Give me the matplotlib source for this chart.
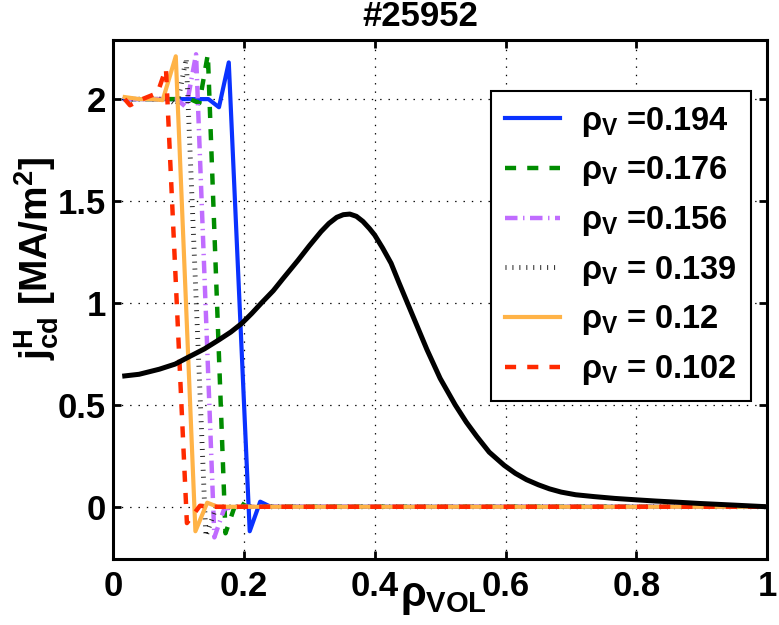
import matplotlib
matplotlib.use("Agg")
import matplotlib.pyplot as plt
import numpy as np

plt.rcParams['font.family'] = ['Liberation Sans', 'DejaVu Sans']
plt.rcParams['font.weight'] = 'bold'
plt.rcParams['mathtext.fontset'] = 'custom'
plt.rcParams['mathtext.rm'] = 'Liberation Sans'
plt.rcParams['mathtext.it'] = 'Liberation Sans'
plt.rcParams['mathtext.bf'] = 'Liberation Sans:bold'
plt.rcParams['lines.scale_dashes'] = False

# total driven current profile (black)
rho_tot = [0.018, 0.04, 0.071, 0.095, 0.117, 0.14, 0.162, 0.18, 0.197, 0.212, 0.227, 0.245,
           0.26, 0.283, 0.30, 0.318, 0.33, 0.342, 0.352, 0.362, 0.372, 0.382, 0.392, 0.40,
           0.412, 0.425, 0.437, 0.45, 0.465, 0.48, 0.50, 0.523, 0.54, 0.556, 0.575, 0.598,
           0.615, 0.632, 0.65, 0.667, 0.685, 0.707, 0.735, 0.767, 0.80, 0.83, 0.865, 0.898,
           0.95, 1.0]
j_tot = [0.642, 0.65, 0.675, 0.70, 0.737, 0.775, 0.819, 0.857, 0.90, 0.948, 1.0, 1.06,
         1.12, 1.21, 1.28, 1.35, 1.39, 1.42, 1.433, 1.436, 1.425, 1.40, 1.365, 1.333,
         1.27, 1.195, 1.10, 1.0, 0.885, 0.77, 0.63, 0.5, 0.415, 0.345, 0.268, 0.203,
         0.164, 0.133, 0.108, 0.088, 0.072, 0.059, 0.05, 0.041, 0.034, 0.028, 0.022, 0.016,
         0.008, 0.0]

# deposition profiles for each rho_V
rho_194 = [0.018, 0.05, 0.10, 0.146, 0.162, 0.177, 0.209, 0.225, 0.241, 1.0]
j_194 = [2.0, 2.0, 2.0, 2.0, 1.96, 2.18, -0.12, 0.025, 0.0, 0.0]

rho_176 = [0.018, 0.05, 0.10, 0.118, 0.132, 0.145, 0.172, 0.189, 0.205, 1.0]
j_176 = [2.0, 2.0, 2.0, 2.0, 1.98, 2.22, -0.13, 0.03, 0.0, 0.0]

rho_156 = [0.018, 0.05, 0.097, 0.112, 0.127, 0.155, 0.17, 0.185, 1.0]
j_156 = [2.0, 2.0, 2.0, 1.96, 2.22, -0.15, -0.01, 0.0, 0.0]

rho_139 = [0.018, 0.05, 0.085, 0.098, 0.112, 0.142, 0.158, 0.172, 1.0]
j_139 = [2.0, 2.0, 2.0, 1.97, 2.2, -0.145, 0.0, 0.0, 0.0]

rho_120 = [0.018, 0.04, 0.06, 0.076, 0.096, 0.126, 0.144, 0.16, 1.0]
j_120 = [2.01, 2.0, 2.0, 1.995, 2.21, -0.12, 0.02, 0.0, 0.0]

rho_102 = [0.018, 0.026, 0.045, 0.068, 0.081, 0.113, 0.133, 0.15, 1.0]
j_102 = [2.0, 1.97, 2.0, 2.03, 2.15, -0.08, 0.005, 0.0, 0.0]

labels = [r'$\rho_\mathbf{V}$ =0.194', r'$\rho_\mathbf{V}$ =0.176', r'$\rho_\mathbf{V}$ =0.156',
          r'$\rho_\mathbf{V}$ = 0.139', r'$\rho_\mathbf{V}$ = 0.12', r'$\rho_\mathbf{V}$ = 0.102']

fig = plt.figure(figsize=(7.79, 6.25), dpi=100)
ax = fig.add_axes([0.145, 0.106, 0.84, 0.83])

ax.plot(rho_194, j_194, color='#0a32ff', lw=3.0, label=labels[0], zorder=3)
ax.plot(rho_176, j_176, color='#008c00', lw=3.2, ls=(0, (8, 8)), label=labels[1], zorder=3)
ax.plot(rho_156, j_156, color='#c06cff', lw=3.2, ls=(0, (9, 4, 1, 4)), label=labels[2], zorder=3)
ax.plot(rho_139, j_139, color='#202020', lw=3.5, ls=(0, (0.7, 4.3)), dash_capstyle='butt',
        label=labels[3], zorder=3)
ax.plot(rho_120, j_120, color='#ffb347', lw=3.0, label=labels[4], zorder=3)
ax.plot(rho_102, j_102, color='#ff2a00', lw=3.2, ls=(0, (8, 8)), label=labels[5], zorder=3)
ax.plot(rho_tot, j_tot, color='black', lw=3.6, zorder=4)

ax.set_xlim(0, 1)
ax.set_ylim(-0.255, 2.29)
ax.set_xticks([0, 0.2, 0.4, 0.6, 0.8, 1])
ax.set_xticklabels(['0', '0.2', '0.4', '0.6', '0.8', '1'])
ax.set_yticks([0, 0.5, 1, 1.5, 2])
ax.set_yticklabels(['0', '0.5', '1', '1.5', '2'])
ax.tick_params(direction='in', length=6, width=2, top=True, right=True, labelsize=25)
ax.tick_params(axis='y', pad=5)
ax.tick_params(axis='x', pad=8)
for s in ax.spines.values():
    s.set_linewidth(2.2)
ax.grid(True, color='black', ls=(0, (1, 5)), lw=0.9)
ax.set_axisbelow(True)

ax.set_xlabel(r'$\rho_\mathbf{VOL}$', fontsize=30)
ax.xaxis.set_label_coords(0.505, -0.035)
ax.xaxis.label.set_va('top')
ax.set_ylabel(r'$\mathbf{j^{H}_{cd}}$ $\mathbf{[MA/m^2]}$', fontsize=28)
ax.yaxis.set_label_coords(-0.08, 0.58)

fig.text(420 / 779, 1 - 16 / 625, '#25952', ha='center', va='center', fontsize=25, fontweight='bold')

leg = ax.legend(loc='upper left', bbox_to_anchor=(491 / 779, 1 - 91 / 625), bbox_transform=fig.transFigure,
                fontsize=23.5, frameon=True, fancybox=False, framealpha=1, edgecolor='black',
                handlelength=1.7, handletextpad=0.65, labelspacing=0.48, borderpad=0.42,
                borderaxespad=0)
leg.get_frame().set_linewidth(1.5)

fig.savefig('out.png', dpi=100)
